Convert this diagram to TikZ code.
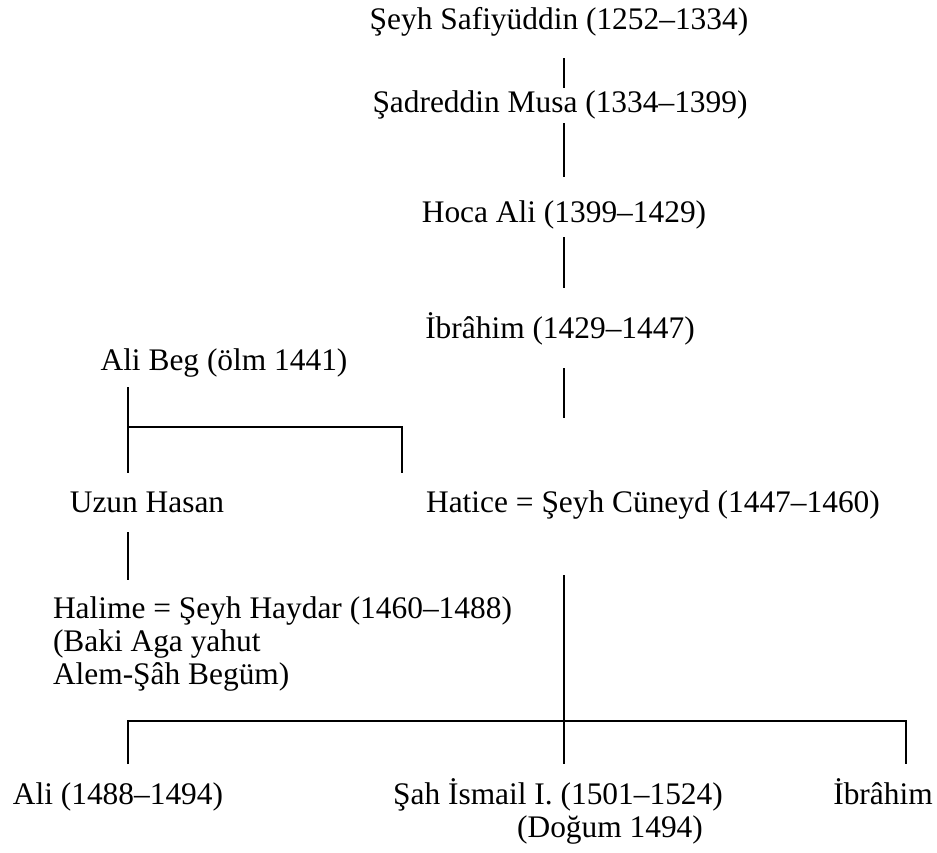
\documentclass[tikz,border=0pt]{standalone}
\usepackage{fontspec}
\setmainfont{Liberation Serif}
\begin{document}
\begin{tikzpicture}[x=1pt,y=-1pt,
  lbl/.style={inner sep=0pt,outer sep=0pt,anchor=base,font=\fontsize{31.4}{33}\selectfont},
  lblw/.style={lbl,anchor=base west},
  conn/.style={line width=1.7pt,line cap=butt}]
\useasboundingbox (0,0) rectangle (937,852);
% people
\node[lbl] (safi) at (559,29) {Şeyh Safiyüddin (1252–1334)};
\node[lbl] (sadr) at (560,112) {Şadreddin Musa (1334–1399)};
\node[lbl] (hoca) at (564,222) {Hoca Ali (1399–1429)};
\node[lbl] (ibr1) at (560,338) {İbrâhim (1429–1447)};
\node[lbl] (alibeg) at (224,370) {Ali Beg (ölm 1441)};
\node[lbl] (uzun) at (147,512) {Uzun Hasan};
\node[lbl] (hatice) at (653,512) {Hatice = Şeyh Cüneyd (1447–1460)};
\node[lblw] (halA) at (53,618) {Halime = Şeyh Haydar (1460–1488)};
\node[lblw] (halB) at (53,651) {(Baki Aga yahut};
\node[lblw] (halC) at (53,684) {Alem-Şâh Begüm)};
\node[lbl] (ali) at (118,804) {Ali (1488–1494)};
\node[lbl] (ismail) at (558,804) {Şah İsmail I. (1501–1524)};
\node[lbl] (dogum) at (610,837) {(Doğum 1494)};
\node[lbl] (ibr2) at (883,804) {İbrâhim};
% connector end points
\coordinate (a1) at (564,58);  \coordinate (a2) at (564,88);
\coordinate (b1) at (564,123); \coordinate (b2) at (564,177);
\coordinate (c1) at (564,237); \coordinate (c2) at (564,288);
\coordinate (d1) at (564,368); \coordinate (d2) at (564,418);
\coordinate (e1) at (128,387); \coordinate (e2) at (128,427);
\coordinate (e3) at (128,473); \coordinate (e4) at (402,427);
\coordinate (e5) at (402,473);
\coordinate (f1) at (128,532); \coordinate (f2) at (128,580);
\coordinate (g1) at (564,575); \coordinate (g2) at (564,721);
\coordinate (h1) at (128,721); \coordinate (h2) at (906,721);
\coordinate (h3) at (128,764); \coordinate (h4) at (564,764);
\coordinate (h5) at (906,764);
% connectors
\draw[conn] (a1) -- (a2);
\draw[conn] (b1) -- (b2);
\draw[conn] (c1) -- (c2);
\draw[conn] (d1) -- (d2);
\draw[conn] (e1) -- (e3);
\draw[conn] (e2) -- (e4) -- (e5);
\draw[conn] (f1) -- (f2);
\draw[conn] (g1) -- (h4);
\draw[conn] (h3) -- (h1) -- (h2) -- (h5);
\end{tikzpicture}
\end{document}
